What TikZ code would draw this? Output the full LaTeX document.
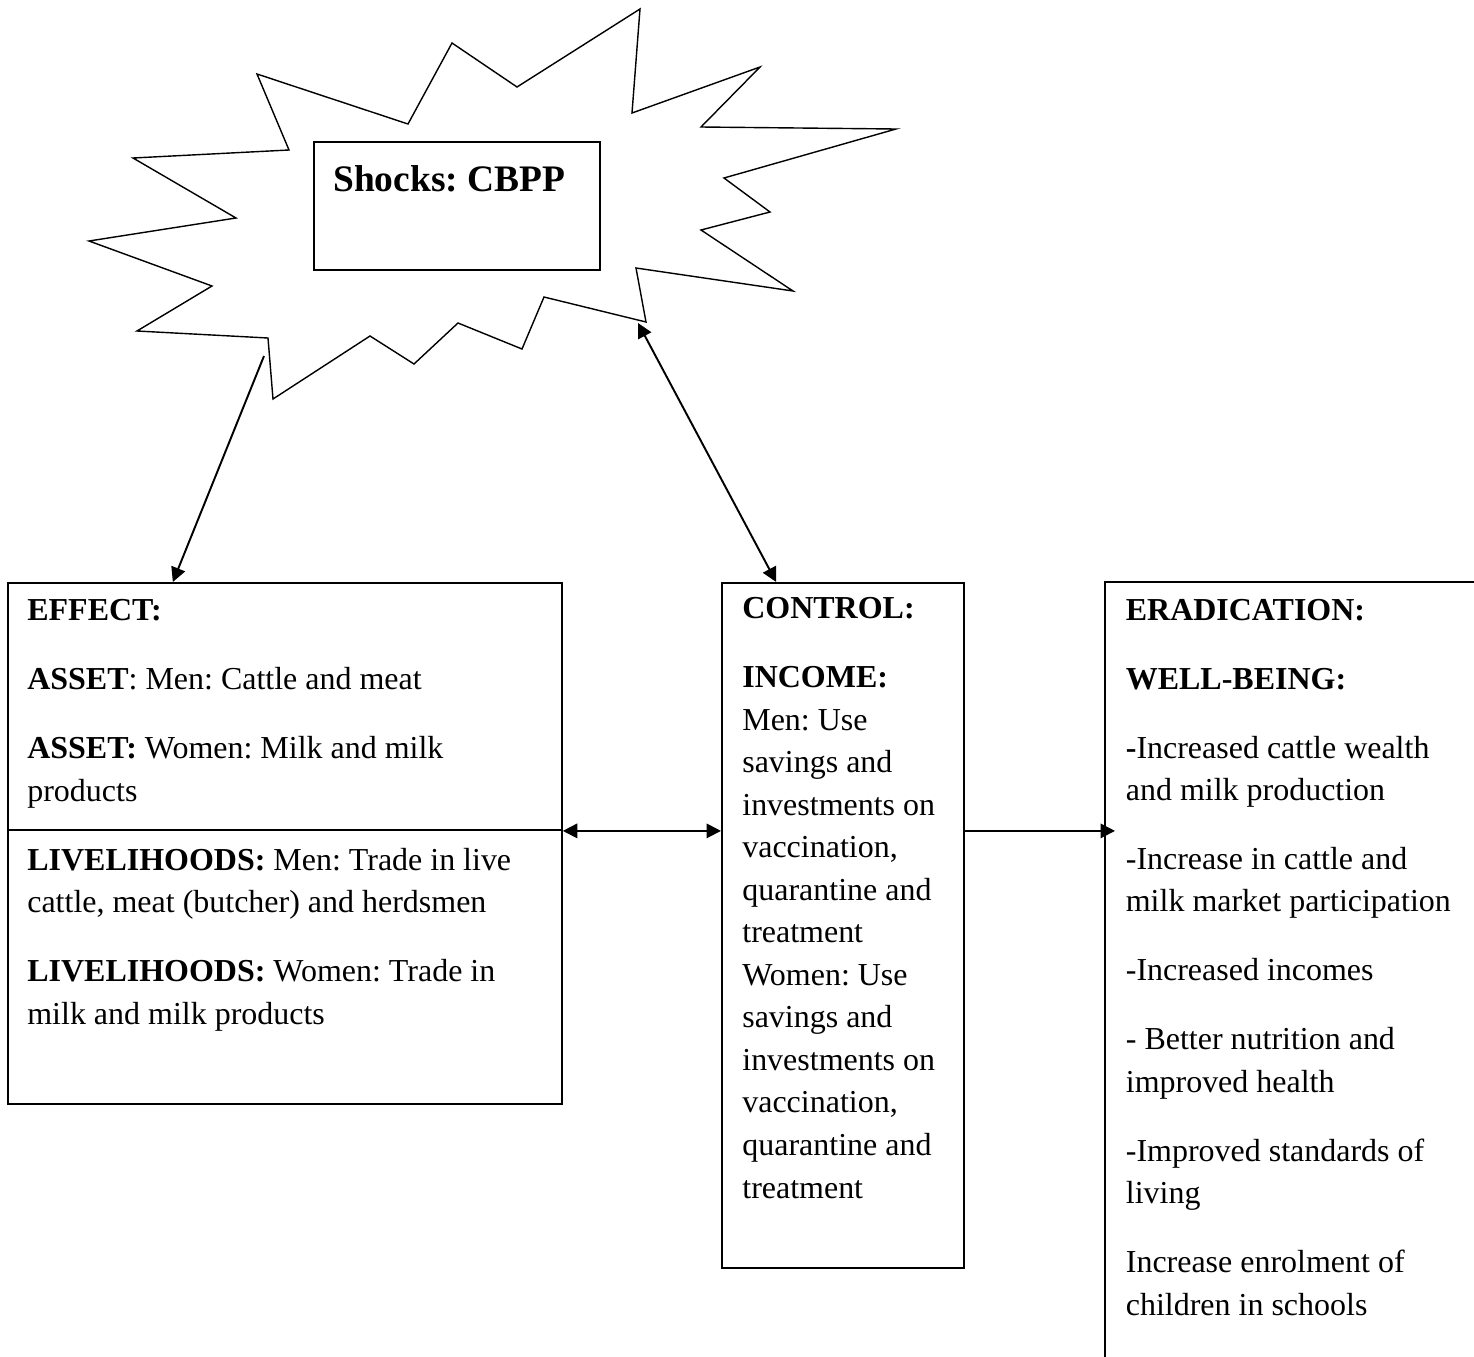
\documentclass[tikz,border=0pt]{standalone}
\usepackage{fontspec}
\setmainfont{Liberation Serif}
\frenchspacing
\usetikzlibrary{arrows.meta}
\tikzset{
  box/.style={draw, line width=1.1pt, inner sep=0pt, anchor=north west},
  txt/.style={align=left, inner sep=0pt, anchor=base west, font=\fontsize{18.2}{24.2}\selectfont},
  link/.style={line width=1.1pt, -{Triangle[length=0.29cm, width=0.29cm]}},
  twoway/.style={line width=1.1pt, {Triangle[length=0.29cm, width=0.29cm]}-{Triangle[length=0.29cm, width=0.29cm]}},
}
\begin{document}
\begin{tikzpicture}[x=0.02cm, y=-0.02cm]
\useasboundingbox (0,0) rectangle (1474,1356);
% shock burst
\draw[line width=0.8pt, line join=miter] (640,9) -- (632,113) -- (760,67) -- (701,127) -- (896,129) -- (724,178) -- (770,212) -- (701,230) -- (793,291) -- (636,268) -- (646,322) -- (544,297) -- (522,349) -- (458,323) -- (414,364) -- (370,336) -- (273,399) -- (268,338) -- (137,331) -- (212,286) -- (89,241) -- (236,218) -- (133,158) -- (289,150) -- (257,74) -- (408,124) -- (452,43) -- (517,87) -- cycle;
\node[box, minimum width=5.72cm, minimum height=2.56cm] (shock) at (313,141) {};
\node[anchor=base west, inner sep=0pt, font=\fontsize{21.3}{25}\selectfont\bfseries] (shocktxt) at (333,191) {Shocks: CBPP};
\coordinate (tailE) at (264,356);
\coordinate (tipS) at (638,323);
% boxes
\node[box, minimum width=11.08cm, minimum height=4.94cm] (assets) at (7,582) {};
\node[box, minimum width=11.08cm, minimum height=5.48cm] (liveli) at (7,829) {};
\node[box, minimum width=4.84cm, minimum height=13.7cm] (control) at (721,582) {};
\node[inner sep=0pt, anchor=north west, minimum width=7.38cm, minimum height=15.48cm] (erad) at (1105,582) {};
\draw[line width=1.1pt] (erad.south west) -- (erad.north west) -- (erad.north east);
% texts (placed by the baseline of their last line)
\node[txt] (assettxt) at (27,801) {\textbf{EFFECT:}\\[15pt]
\textbf{ASSET}: Men: Cattle and meat\\[15pt]
\textbf{ASSET:} Women: Milk and milk\\
products};
\node[txt] (livtxt) at (27,1024) {\textbf{LIVELIHOODS:} Men: Trade in live\\
cattle, meat (butcher) and herdsmen\\[15pt]
\textbf{LIVELIHOODS:} Women: Trade in\\
milk and milk products};
\node[txt] (controltxt) at (742,1198) {\textbf{CONTROL:}\\[15pt]
\textbf{INCOME:}\\
Men: Use\\
savings and\\
investments on\\
vaccination,\\
quarantine and\\
treatment\\
Women: Use\\
savings and\\
investments on\\
vaccination,\\
quarantine and\\
treatment};
\node[txt] (eradtxt) at (1125.5,1315) {\textbf{ERADICATION:}\\[15pt]
\textbf{WELL-BEING:}\\[15pt]
\textbf{-}Increased cattle wealth\\
and milk production\\[15pt]
-Increase in cattle and\\
milk market participation\\[15pt]
-Increased incomes\\[15pt]
- Better nutrition and\\
improved health\\[15pt]
-Improved standards of\\
living\\[15pt]
Increase enrolment of\\
children in schools};
% links
\draw[link] (tailE) -- (assets.132.5);
\draw[twoway] (tipS) -- (control.101.1);
\draw[twoway] (assets.south east) -- (assets.south east -| control.west);
\draw[link, shorten >=-0.2cm] (control.east |- assets.south) -- (erad.west |- assets.south);
\end{tikzpicture}
\end{document}
